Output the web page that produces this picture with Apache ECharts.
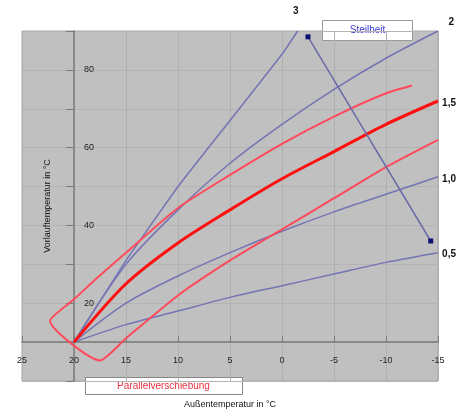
<!DOCTYPE html>
<html>
<head>
<meta charset="utf-8">
<script src="https://cdn.jsdelivr.net/npm/echarts@6/dist/echarts.min.js"></script>
<style>
  html, body { margin: 0; padding: 0; background: #fff; }
  #main { width: 464px; height: 414px; }
</style>
</head>
<body>
<div id="main"></div>
<script>
// Heizkurven: Außentemperatur -> Vorlauftemperatur
var outdoor = [20, 15, 10, 5, 0, -5, -10, -15];
var slope05 = [10, 14.5, 18, 21.5, 24.5, 27.5, 30.5, 33];
var slope10 = [10, 20, 27, 33, 38.5, 43.5, 48, 52.5];
var slope15 = [10, 25, 35.5, 44, 52, 59, 66, 72];
var slope20 = [10, 30, 44, 56, 66, 75, 83, 90];
var outdoor30 = [20, 15, 10, 5, 0, -1.5];
var slope30 = [10, 31, 50, 67, 84, 90];

// Parallelverschiebung (obere Kurve, Ecke, untere Kurve)
var shiftX = [-12.5, -10, -5, 0, 5, 10, 15, 18, 20, 22.3, 17.5, 15, 10, 5, 0, -5, -10, -15];
var shiftY = [76, 74, 68, 61, 53, 44.5, 33, 26, 21, 15.5, 5.3, 11, 22, 31, 39, 47, 55, 62];

// Steilheit-Pfeil
var arrowX = [-2.5, -14.3];
var arrowY = [88.5, 36];

var xTicks = [25, 20, 15, 10, 5, 0, -5, -10, -15];
var yTickLabels = [20, 40, 60, 80];

function pairs(xs, ys) {
  return xs.map(function (x, i) { return [x, ys[i]]; });
}

var chart = echarts.init(document.getElementById('main'));
var font = 'Liberation Sans';
var blue = '#7474b4';

function curve(name, xs, ys, color, width, endOffset, smooth) {
  return {
    name: name,
    type: 'line',
    data: pairs(xs, ys),
    smooth: smooth,
    showSymbol: false,
    lineStyle: { color: color, width: width },
    silent: true,
    endLabel: {
      show: true,
      formatter: name,
      color: '#111',
      fontFamily: font,
      fontSize: 10,
      fontWeight: 'bold',
      offset: endOffset || [0, 0]
    },
    z: 3
  };
}

var option = {
  backgroundColor: '#fff',
  animation: false,
  grid: {
    left: 22, right: 26, top: 31, bottom: 28,
    show: true,
    backgroundColor: '#c0c0c0',
    borderColor: '#a8a8a8',
    borderWidth: 1
  },
  xAxis: {
    type: 'value',
    inverse: true,
    min: -15,
    max: 25,
    interval: 5,
    offset: -39,
    name: 'Außentemperatur in °C',
    nameLocation: 'middle',
    nameGap: 58,
    nameTextStyle: { color: '#111', fontFamily: font, fontSize: 9 },
    axisLine: { show: true, onZero: false, lineStyle: { color: '#7a7a7a', width: 1.5 } },
    axisTick: { show: true, inside: true, length: 6, lineStyle: { color: '#7a7a7a' } },
    axisLabel: { color: '#222', fontFamily: font, fontSize: 9, margin: 14,
      formatter: function (v) { return xTicks.indexOf(v) >= 0 ? String(v) : ''; } },
    splitLine: { show: true, lineStyle: { color: '#b0b0b0', width: 1 } }
  },
  yAxis: {
    type: 'value',
    min: 0,
    max: 90,
    interval: 10,
    offset: -52,
    name: 'Vorlauftemperatur in °C',
    nameLocation: 'middle',
    nameGap: 22,
    nameTextStyle: { color: '#111', fontFamily: font, fontSize: 9 },
    axisLine: { show: true, onZero: false, lineStyle: { color: '#7a7a7a', width: 1.5 } },
    axisTick: { show: true, length: 8, lineStyle: { color: '#7a7a7a' } },
    axisLabel: { inside: true, margin: 10, color: '#222', fontFamily: font, fontSize: 9,
      formatter: function (v) { return yTickLabels.indexOf(v) >= 0 ? String(v) : ''; } },
    splitLine: { show: true, lineStyle: { color: '#b4b4b4', width: 1 } }
  },
  series: [
    curve('0,5', outdoor, slope05, blue, 1.5, [26, 2], 0.3),
    curve('1,0', outdoor, slope10, blue, 1.5, [26, 2], 0.3),
    curve('2', outdoor, slope20, blue, 1.5, [24, -9], 0.3),
    curve('3', outdoor30, slope30, blue, 1.5, [9, -20], 0.1),
    {
      name: 'Parallelverschiebung',
      type: 'line',
      data: pairs(shiftX, shiftY),
      smooth: 0.2,
      showSymbol: false,
      lineStyle: { color: '#ff4a5a', width: 2 },
      silent: true,
      z: 4
    },
    curve('1,5', outdoor, slope15, '#ff1010', 3, [26, 2], 0.3),
    {
      name: 'Steilheit',
      type: 'line',
      data: pairs(arrowX, arrowY),
      symbol: 'rect',
      symbolSize: 5,
      itemStyle: { color: '#101070' },
      lineStyle: { color: '#6a6aa8', width: 1.5 },
      silent: true,
      z: 5
    }
  ],
  graphic: [
    {
      type: 'group', left: 322, top: 20,
      children: [
        { type: 'rect', shape: { x: 0, y: 0, width: 90, height: 20 },
          style: { fill: '#fff', stroke: '#999', lineWidth: 1 } },
        { type: 'text', x: 45, y: 10,
          style: { text: 'Steilheit', fill: '#3a3ad0', font: '10px ' + font, align: 'center', verticalAlign: 'middle' } }
      ]
    },
    {
      type: 'group', left: 85, top: 377,
      children: [
        { type: 'rect', shape: { x: 0, y: 0, width: 157, height: 17 },
          style: { fill: '#fff', stroke: '#888', lineWidth: 1 } },
        { type: 'text', x: 78, y: 9,
          style: { text: 'Parallelverschiebung', fill: '#e83040', font: '10px ' + font, align: 'center', verticalAlign: 'middle' } }
      ]
    }
  ]
};

chart.setOption(option);
</script>
</body>
</html>
